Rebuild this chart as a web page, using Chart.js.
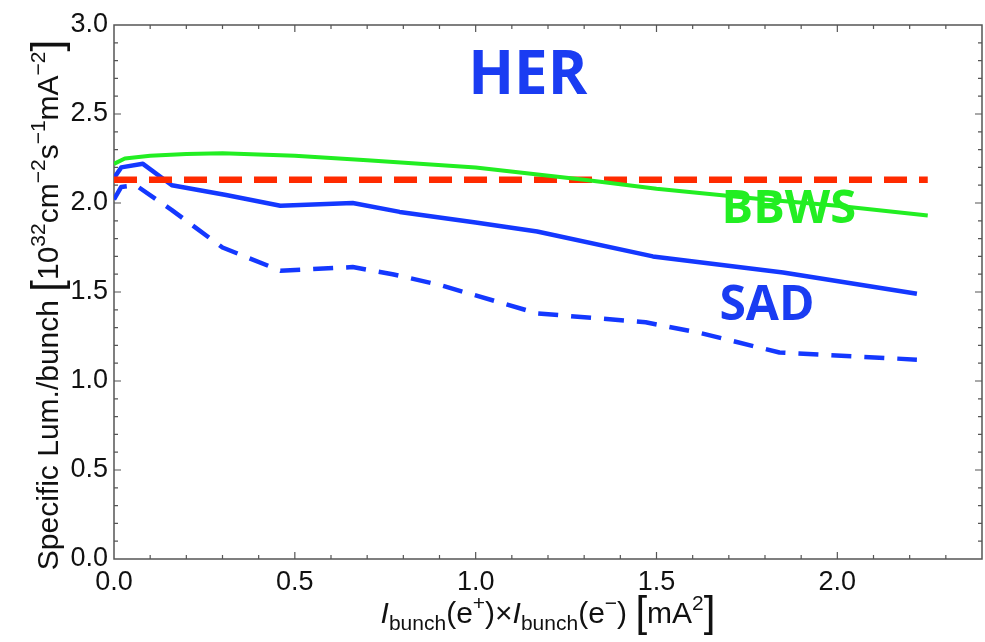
<!DOCTYPE html>
<html>
<head>
<meta charset="utf-8">
<script src="https://cdn.jsdelivr.net/npm/chart.js@4"></script>
<style>
  body { margin: 0; background: #fff; }
  #wrap { width: 985px; height: 642px; }
</style>
</head>
<body>
<div id="wrap"><canvas id="lum"></canvas></div>
<script>
'use strict';

// BBWS (green solid)
const bbwsX = [0, 0.03, 0.1, 0.2, 0.3, 0.5, 0.7, 1.0, 1.3, 1.5, 1.8, 2.0, 2.25];
const bbwsY = [2.22, 2.25, 2.265, 2.275, 2.28, 2.265, 2.24, 2.20, 2.13, 2.08, 2.02, 1.985, 1.93];

// SAD (blue solid)
const sadX = [0, 0.02, 0.08, 0.16, 0.31, 0.46, 0.66, 0.79, 1.0, 1.17, 1.49, 1.85, 2.22];
const sadY = [2.14, 2.20, 2.22, 2.10, 2.045, 1.985, 2.00, 1.95, 1.89, 1.84, 1.70, 1.61, 1.49];

// SAD (blue dashed)
const sadDashX = [0, 0.02, 0.06, 0.16, 0.30, 0.46, 0.66, 0.77, 0.90, 1.17, 1.47, 1.62, 1.84, 2.22];
const sadDashY = [2.02, 2.09, 2.10, 1.96, 1.75, 1.62, 1.64, 1.60, 1.54, 1.38, 1.33, 1.27, 1.16, 1.12];

// reference (red dashed)
const refX = [0, 2.25];
const refY = [2.13, 2.13];

// tick labels
const xTicks = [0, 0.5, 1.0, 1.5, 2.0];
const yTicks = [0, 0.5, 1.0, 1.5, 2.0, 2.5, 3.0];

const BLUE = '#1438ff';
const GREEN = '#22ee22';
const RED = '#ff2a00';
const FONT = '"Liberation Sans", Arial, sans-serif';

function pts(xs, ys) {
    return xs.map((v, i) => ({ x: v, y: ys[i] }));
}

// 위첨자/아래첨자 섞인 텍스트
function richWidth(ctx, parts, base) {
    let w = 0;
    for (const p of parts) {
        ctx.font = (p.i ? 'italic ' : '') + (base * (p.s || 1)) + 'px ' + FONT;
        w += ctx.measureText(p.t).width;
    }
    return w;
}
function drawRich(ctx, parts, x, y, base) {
    let cx = x;
    for (const p of parts) {
        ctx.font = (p.i ? 'italic ' : '') + (base * (p.s || 1)) + 'px ' + FONT;
        ctx.fillText(p.t, cx, y + (p.dy || 0) * base);
        cx += ctx.measureText(p.t).width;
    }
}

const yTitle = [
    { t: 'Specific Lum./bunch ' },
    { t: '[', s: 1.4, dy: 0.1 },
    { t: '10' }, { t: '32', s: 0.7, dy: -0.42 },
    { t: 'cm' }, { t: '\u22122', s: 0.7, dy: -0.42 },
    { t: 's' }, { t: '\u22121', s: 0.7, dy: -0.42 },
    { t: 'mA' }, { t: '\u22122', s: 0.7, dy: -0.42 },
    { t: ']', s: 1.4, dy: 0.1 }
];
const xTitle = [
    { t: 'I', i: true }, { t: 'bunch', s: 0.7, dy: 0.22 },
    { t: '(e' }, { t: '+', s: 0.7, dy: -0.42 }, { t: ')\u00d7' },
    { t: 'I', i: true }, { t: 'bunch', s: 0.7, dy: 0.22 },
    { t: '(e' }, { t: '\u2212', s: 0.7, dy: -0.42 }, { t: ') ' },
    { t: '[', s: 1.4, dy: 0.1 }, { t: 'mA' }, { t: '2', s: 0.7, dy: -0.42 },
    { t: ']', s: 1.4, dy: 0.1 }
];

// 프레임 + 안쪽 눈금
const framePlugin = {
    id: 'frame',
    beforeDatasetsDraw(chart) {
        const { ctx, chartArea: a, scales: { x, y } } = chart;
        ctx.save();
        ctx.strokeStyle = '#555';
        ctx.lineWidth = 1.5;
        ctx.strokeRect(a.left, a.top, a.right - a.left, a.bottom - a.top);
        ctx.lineWidth = 1.2;
        ctx.beginPath();
        for (let i = 1; i <= 23; i++) {
            const px = x.getPixelForValue(i / 10);
            const len = i % 5 === 0 ? 7 : 4;
            ctx.moveTo(px, a.bottom); ctx.lineTo(px, a.bottom - len);
            ctx.moveTo(px, a.top); ctx.lineTo(px, a.top + len);
        }
        for (let i = 1; i <= 29; i++) {
            const py = y.getPixelForValue(i / 10);
            const len = i % 5 === 0 ? 7 : 4;
            ctx.moveTo(a.left, py); ctx.lineTo(a.left + len, py);
            ctx.moveTo(a.right, py); ctx.lineTo(a.right - len, py);
        }
        ctx.stroke();
        ctx.restore();
    },
    afterDraw(chart) {
        const { ctx, scales: { x, y } } = chart;
        ctx.save();
        ctx.fillStyle = '#111';
        ctx.textBaseline = 'alphabetic';
        ctx.textAlign = 'left';
        // x title
        const base = 30;
        const wx = richWidth(ctx, xTitle, base);
        drawRich(ctx, xTitle, 548 - wx / 2, 623, base);
        // y title
        const wy = richWidth(ctx, yTitle, base);
        ctx.translate(58, 305);
        ctx.rotate(-Math.PI / 2);
        drawRich(ctx, yTitle, -wy / 2, 0, base);
        ctx.restore();

        // labels
        ctx.save();
        ctx.textBaseline = 'alphabetic';
        ctx.font = 'bold 60px "Open Sans", sans-serif';
        ctx.fillStyle = '#1a3cf2';
        ctx.textAlign = 'center';
        ctx.fillText('HER', x.getPixelForValue(1.144), y.getPixelForValue(2.61));
        ctx.textAlign = 'left';
        ctx.font = 'bold 47px "Open Sans", sans-serif';
        ctx.fillStyle = '#22ee22';
        ctx.fillText('BBWS', x.getPixelForValue(1.68), y.getPixelForValue(1.89));
        ctx.font = 'bold 48px "Open Sans", sans-serif';
        ctx.fillStyle = '#1a3cf2';
        ctx.fillText('SAD', x.getPixelForValue(1.674), y.getPixelForValue(1.34));
        ctx.restore();
    }
};

const lineBase = { pointRadius: 0, fill: false, tension: 0, borderCapStyle: 'butt', borderJoinStyle: 'round' };

const data = {
    datasets: [
        Object.assign({ label: 'BBWS', data: pts(bbwsX, bbwsY), borderColor: GREEN, borderWidth: 4, order: 1 }, lineBase),
        Object.assign({ label: 'ref', data: pts(refX, refY), borderColor: RED, borderWidth: 6.5, borderDash: [23, 12], order: 2 }, lineBase),
        Object.assign({ label: 'SAD', data: pts(sadX, sadY), borderColor: BLUE, borderWidth: 4.5, order: 3 }, lineBase),
        Object.assign({ label: 'SAD dashed', data: pts(sadDashX, sadDashY), borderColor: BLUE, borderWidth: 4.5, borderDash: [20, 13], order: 4 }, lineBase)
    ]
};

const config = {
    type: 'line',
    data,
    options: {
        responsive: true,
        maintainAspectRatio: false,
        animation: false,
        layout: { padding: { top: 25, right: 3 } },
        plugins: { legend: { display: false }, tooltip: { enabled: false } },
        scales: {
            x: {
                type: 'linear', min: 0, max: 2.4,
                grid: { display: false, drawTicks: false },
                border: { display: false },
                afterBuildTicks: s => { s.ticks = xTicks.map(v => ({ value: v })); },
                afterFit: s => { s.height = 83; },
                ticks: {
                    padding: 7, color: '#111', maxRotation: 0,
                    font: { family: FONT, size: 27 },
                    callback: v => v.toFixed(1)
                }
            },
            y: {
                type: 'linear', min: 0, max: 3,
                grid: { display: false, drawTicks: false },
                border: { display: false },
                afterBuildTicks: s => { s.ticks = yTicks.map(v => ({ value: v })); },
                afterFit: s => { s.width = 114; },
                ticks: {
                    padding: 6, color: '#111',
                    font: { family: FONT, size: 27 },
                    callback: v => v.toFixed(1)
                }
            }
        }
    },
    plugins: [framePlugin]
};

const lumChart = new Chart(document.getElementById('lum'), config);
</script>
</body>
</html>
